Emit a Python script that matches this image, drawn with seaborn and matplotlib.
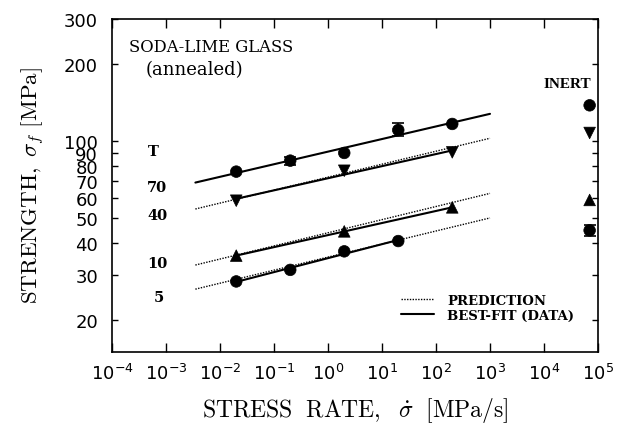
import numpy as np
import pandas as pd
import matplotlib
matplotlib.use("Agg")
import matplotlib.pyplot as plt
import seaborn as sns
from matplotlib.ticker import FixedLocator, FixedFormatter, LogLocator, NullLocator
from matplotlib.lines import Line2D

# ---------------- data ----------------
rates_70 = [0.02, 0.2, 2, 20, 200]
strength_70 = [76.0, 83.9, 89.9, 110.5, 116.7]
rates_40 = [0.02, 2, 200]
strength_40 = [58.5, 76.6, 90.4]
rates_10 = [0.02, 2, 200]
strength_10 = [35.7, 44.4, 55.1]
rates_5 = [0.02, 0.2, 2, 20]
strength_5 = [28.3, 31.4, 37.1, 40.7]

inert_rate = 7.0e4
inert_strength = [138.0, 107.6, 58.9, 44.8]

# error bars (lower, upper) for a few points
err_70_rates = [0.2, 20]
err_70_values = [83.9, 110.5]
err_70_low = [3.0, 5.8]
err_70_high = [3.0, 7.3]
err_inert5_low = [2.2]
err_inert5_high = [2.2]

# prediction lines (endpoints)
pred_rates = [0.0035, 1000]
pred_40 = [54.3, 102.6]
pred_10 = [32.8, 62.5]
pred_5 = [26.4, 50.1]

series_labels = ["70", "40", "10", "5"]
y_ticks = [20, 30, 40, 50, 60, 70, 80, 90, 100, 200, 300]

# ---------------- figure ----------------
sns.set_theme(style="ticks")
plt.rcParams["font.family"] = ["DejaVu Sans"]
plt.rcParams["mathtext.fontset"] = "cm"
for key in ("text.color", "axes.labelcolor", "xtick.color", "ytick.color",
            "axes.edgecolor"):
    plt.rcParams[key] = "black"

W, H = 624, 431
fig = plt.figure(figsize=(W / 100, H / 100), dpi=100)
ax = fig.add_axes([112 / W, 1 - 353 / H, (598 - 112) / W, (353 - 20) / H])
ax.set_xscale("log")
ax.set_yscale("log")

serif = ["DejaVu Serif"]
times = ["Liberation Serif", "DejaVu Serif"]

# data frame of points
pts = pd.DataFrame({
    "rate": rates_70 + rates_40 + rates_10 + rates_5 + [inert_rate] * 4,
    "strength": strength_70 + strength_40 + strength_10 + strength_5 + inert_strength,
    "series": (["70"] * len(rates_70) + ["40"] * len(rates_40) + ["10"] * len(rates_10)
               + ["5"] * len(rates_5) + series_labels),
})
markers = {"70": "o", "40": "v", "10": "^", "5": "o"}

# best-fit lines (least squares in log-log)
def fit_line(xs, ys, x_range):
    p = np.polyfit(np.log10(xs), np.log10(ys), 1)
    xr = np.array(x_range, dtype=float)
    return xr, 10 ** np.polyval(p, np.log10(xr))

fits = [
    (rates_70, strength_70, pred_rates),
    (rates_40, strength_40, [rates_40[0], rates_40[-1]]),
    (rates_10, strength_10, [rates_10[0], rates_10[-1]]),
    (rates_5, strength_5, [rates_5[0], rates_5[-1]]),
]
for xs, ys, xr in fits:
    fx, fy = fit_line(xs, ys, xr)
    sns.lineplot(x=fx, y=fy, ax=ax, color="black", lw=1.5, linestyle="-", legend=False)

for pv in (pred_40, pred_10, pred_5):
    sns.lineplot(x=pred_rates, y=pv, ax=ax, color="black", lw=1.0,
                 linestyle=(0, (1, 1)), legend=False)

sns.scatterplot(data=pts, x="rate", y="strength", style="series", markers=markers,
                color="black", s=70, edgecolor="black", linewidth=0.5, ax=ax,
                legend=False, zorder=5)

ax.errorbar(err_70_rates, err_70_values, yerr=[err_70_low, err_70_high], fmt="none",
            ecolor="black", elinewidth=1.2, capsize=4, capthick=1.2, zorder=4)
ax.errorbar([inert_rate], [inert_strength[3]], yerr=[err_inert5_low, err_inert5_high],
            fmt="none", ecolor="black", elinewidth=1.2, capsize=4, capthick=1.2, zorder=4)

# ---------------- axes ----------------
ax.set_xlim(1e-4, 1e5)
ax.set_ylim(15, 300)
ax.xaxis.set_major_locator(LogLocator(base=10, numticks=12))
ax.xaxis.set_minor_locator(NullLocator())
ax.yaxis.set_major_locator(FixedLocator(y_ticks))
ax.yaxis.set_major_formatter(FixedFormatter([str(v) for v in y_ticks]))
ax.yaxis.set_minor_locator(NullLocator())

ax.tick_params(axis="x", which="major", direction="in", top=True, bottom=True,
               length=6.5, width=1, labelsize=13, pad=8, color="black")
ax.tick_params(axis="y", which="major", direction="in", left=True, right=True,
               length=4.5, width=1, labelsize=13, pad=10, color="black")
for sp in ax.spines.values():
    sp.set_color("black")
    sp.set_linewidth(1.2)
ax.set_xlabel("")
ax.set_ylabel("")

fig.text(355 / W, 1 - 411 / H, r"$\mathrm{STRESS\ \ RATE,}\ \ \dot{\sigma}\ \ \mathrm{[MPa/s]}$",
         fontsize=17, ha="center", va="center")
fig.text(33 / W, 1 - 186 / H, r"$\mathrm{STRENGTH,}\ \sigma_f\ \mathrm{[MPa]}$",
         fontsize=16.5, ha="center", va="center", rotation=90)

# annotations
fig.text(129 / W, 1 - 48 / H, "SODA-LIME GLASS", family=serif, fontsize=11.8,
         ha="left", va="center")
fig.text(146 / W, 1 - 70.5 / H, "(annealed)", family=serif, fontsize=13,
         ha="left", va="center")
for lab, px, py in [("T", 148, 151.5), ("70", 147, 188.5), ("40", 147, 216),
                    ("10", 147, 264.5), ("5", 154, 297.5)]:
    fig.text(px / W, 1 - py / H, lab, family=serif, fontsize=10.5, fontweight="bold",
             ha="left", va="center")
fig.text(567 / W, 1 - 84 / H, "INERT", family=times, fontsize=11, fontweight="bold",
         ha="center", va="center")

handles = [Line2D([], [], color="black", lw=1.0, linestyle=(0, (1, 1))),
           Line2D([], [], color="black", lw=1.5, linestyle="-")]
leg = ax.legend(handles, ["PREDICTION", "BEST-FIT (DATA)"], loc="upper left",
                bbox_to_anchor=(401 / W, 1 - 295 / H), bbox_transform=fig.transFigure,
                frameon=False, borderpad=0, borderaxespad=0, handlelength=2.5,
                handletextpad=1.0, labelspacing=0.15,
                prop={"family": serif, "weight": "bold", "size": 9.5})

fig.savefig("out.png", dpi=100)
